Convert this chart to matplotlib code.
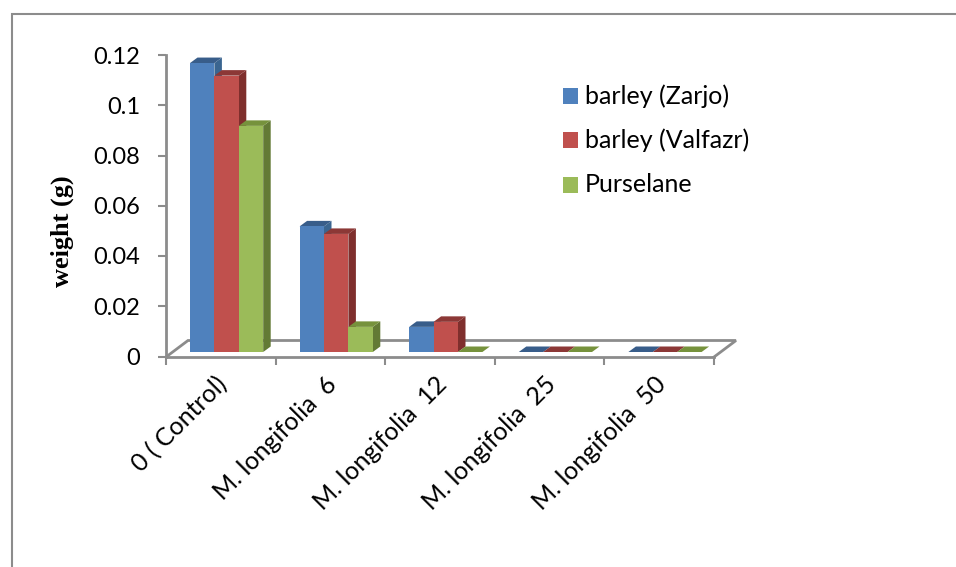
import numpy as np
import matplotlib.pyplot as plt
from matplotlib.patches import Polygon, Rectangle
from matplotlib.lines import Line2D

categories = ['0 ( Control)', 'M. longifolia  6', 'M. longifolia  12', 'M. longifolia  25', 'M. longifolia  50']
zarjo = [0.115, 0.05, 0.01, 0, 0]
valfazr = [0.11, 0.047, 0.012, 0, 0]
purselane = [0.09, 0.01, 0, 0, 0]
series_names = ['barley (Zarjo)', 'barley (Valfazr)', 'Purselane']
yticks = [0, 0.02, 0.04, 0.06, 0.08, 0.1, 0.12]
ytick_labels = ['0', '0.02', '0.04', '0.06', '0.08', '0.1', '0.12']

W, H = 956, 567
plt.rcParams['font.family'] = ['Lato', 'DejaVu Sans']

fig = plt.figure(figsize=(W / 100, H / 100), dpi=100)

# plot area in pixels, from the picture
left, right, top, bottom = 166, 714, 55, 356.5
ax = fig.add_axes([left / W, 1 - bottom / H, (right - left) / W, (bottom - top) / H])
ax.set_xlim(0, 5)
ax.set_ylim(0, 0.12)
ax.patch.set_alpha(0)

px_x = 5 / (right - left)
px_y = 0.12 / (bottom - top)
grey = '#8c8c8c'

# bars sit a little above the front edge of the floor
base = 4.5 * px_y
dx = 7.5 * px_x
dy = 5.5 * px_y
bar_w = 24.4 * px_x
first = (190 - left) * px_x

# floor
floor_dx = 22 * px_x
floor_dy = 16 * px_y
ax.plot([0, floor_dx, 5 + floor_dx, 5], [-0.5 * px_y, floor_dy, floor_dy, -0.5 * px_y],
        color=grey, lw=2, clip_on=False, zorder=1, solid_joinstyle='miter')

colors = [('#4f81bd', '#385d8a', '#3a6590'), ('#c0504d', '#8c3836', '#7f2f2d'), ('#9bbb59', '#76923c', '#637a35')]
for i, vals in enumerate([zarjo, valfazr, purselane]):
    front, tp, side = colors[i]
    for j, v in enumerate(vals):
        x0 = j + first + i * bar_w
        z = 3 + j + i * 0.1
        if v > 0:
            ax.bar(x0, v, bar_w, bottom=base, align='edge', color=front, lw=0, zorder=z + 0.05, clip_on=False)
            ax.add_patch(Polygon([(x0 + bar_w, base), (x0 + bar_w + dx, base + dy),
                                  (x0 + bar_w + dx, base + v + dy), (x0 + bar_w, base + v)],
                                 fc=side, lw=0, zorder=z, clip_on=False))
        ax.add_patch(Polygon([(x0, base + v), (x0 + dx, base + v + dy),
                              (x0 + bar_w + dx, base + v + dy), (x0 + bar_w, base + v)],
                             fc=tp, lw=0, zorder=z, clip_on=False))

for s in ['top', 'right']:
    ax.spines[s].set_visible(False)
for s in ['left', 'bottom']:
    ax.spines[s].set_color(grey)
    ax.spines[s].set_linewidth(2)
    ax.spines[s].set_zorder(2)

ax.set_yticks(yticks)
ax.set_yticklabels(ytick_labels, fontsize=17, color='black')
ax.tick_params(axis='y', length=5.8, width=1.5, color=grey, pad=13)
ax.set_xticks(range(6))
ax.set_xticklabels([])
ax.tick_params(axis='x', length=5.8, width=1.5, color=grey)

for j, name in enumerate(categories):
    ax.annotate(name, xy=(j + 0.5, 0), xytext=(3, -24), textcoords='offset pixels',
                rotation=45, rotation_mode='anchor', ha='right', va='center',
                fontsize=18, annotation_clip=False)

fig.text(62 / W, 1 - 231 / H, 'weight (g)', rotation=90, ha='center', va='center',
         family='Liberation Serif', fontweight='bold', fontsize=18.9)

# legend
leg_y = [96, 140, 185]
for name, c, y in zip(series_names, colors, leg_y):
    fig.add_artist(Rectangle((563 / W, 1 - (y + 7.5) / H), 15 / W, 15 / H, transform=fig.transFigure, fc=c[0], lw=0))
    fig.text(585 / W, 1 - y / H, name, fontsize=18, va='center', ha='left')

# chart frame, open on the right and at the bottom
fig.add_artist(Line2D([11.5 / W, 11.5 / W, 1], [0, 1 - 13.5 / H, 1 - 13.5 / H],
                      color=grey, lw=1.5, solid_joinstyle='miter'))

fig.savefig('out.png', dpi=100)
